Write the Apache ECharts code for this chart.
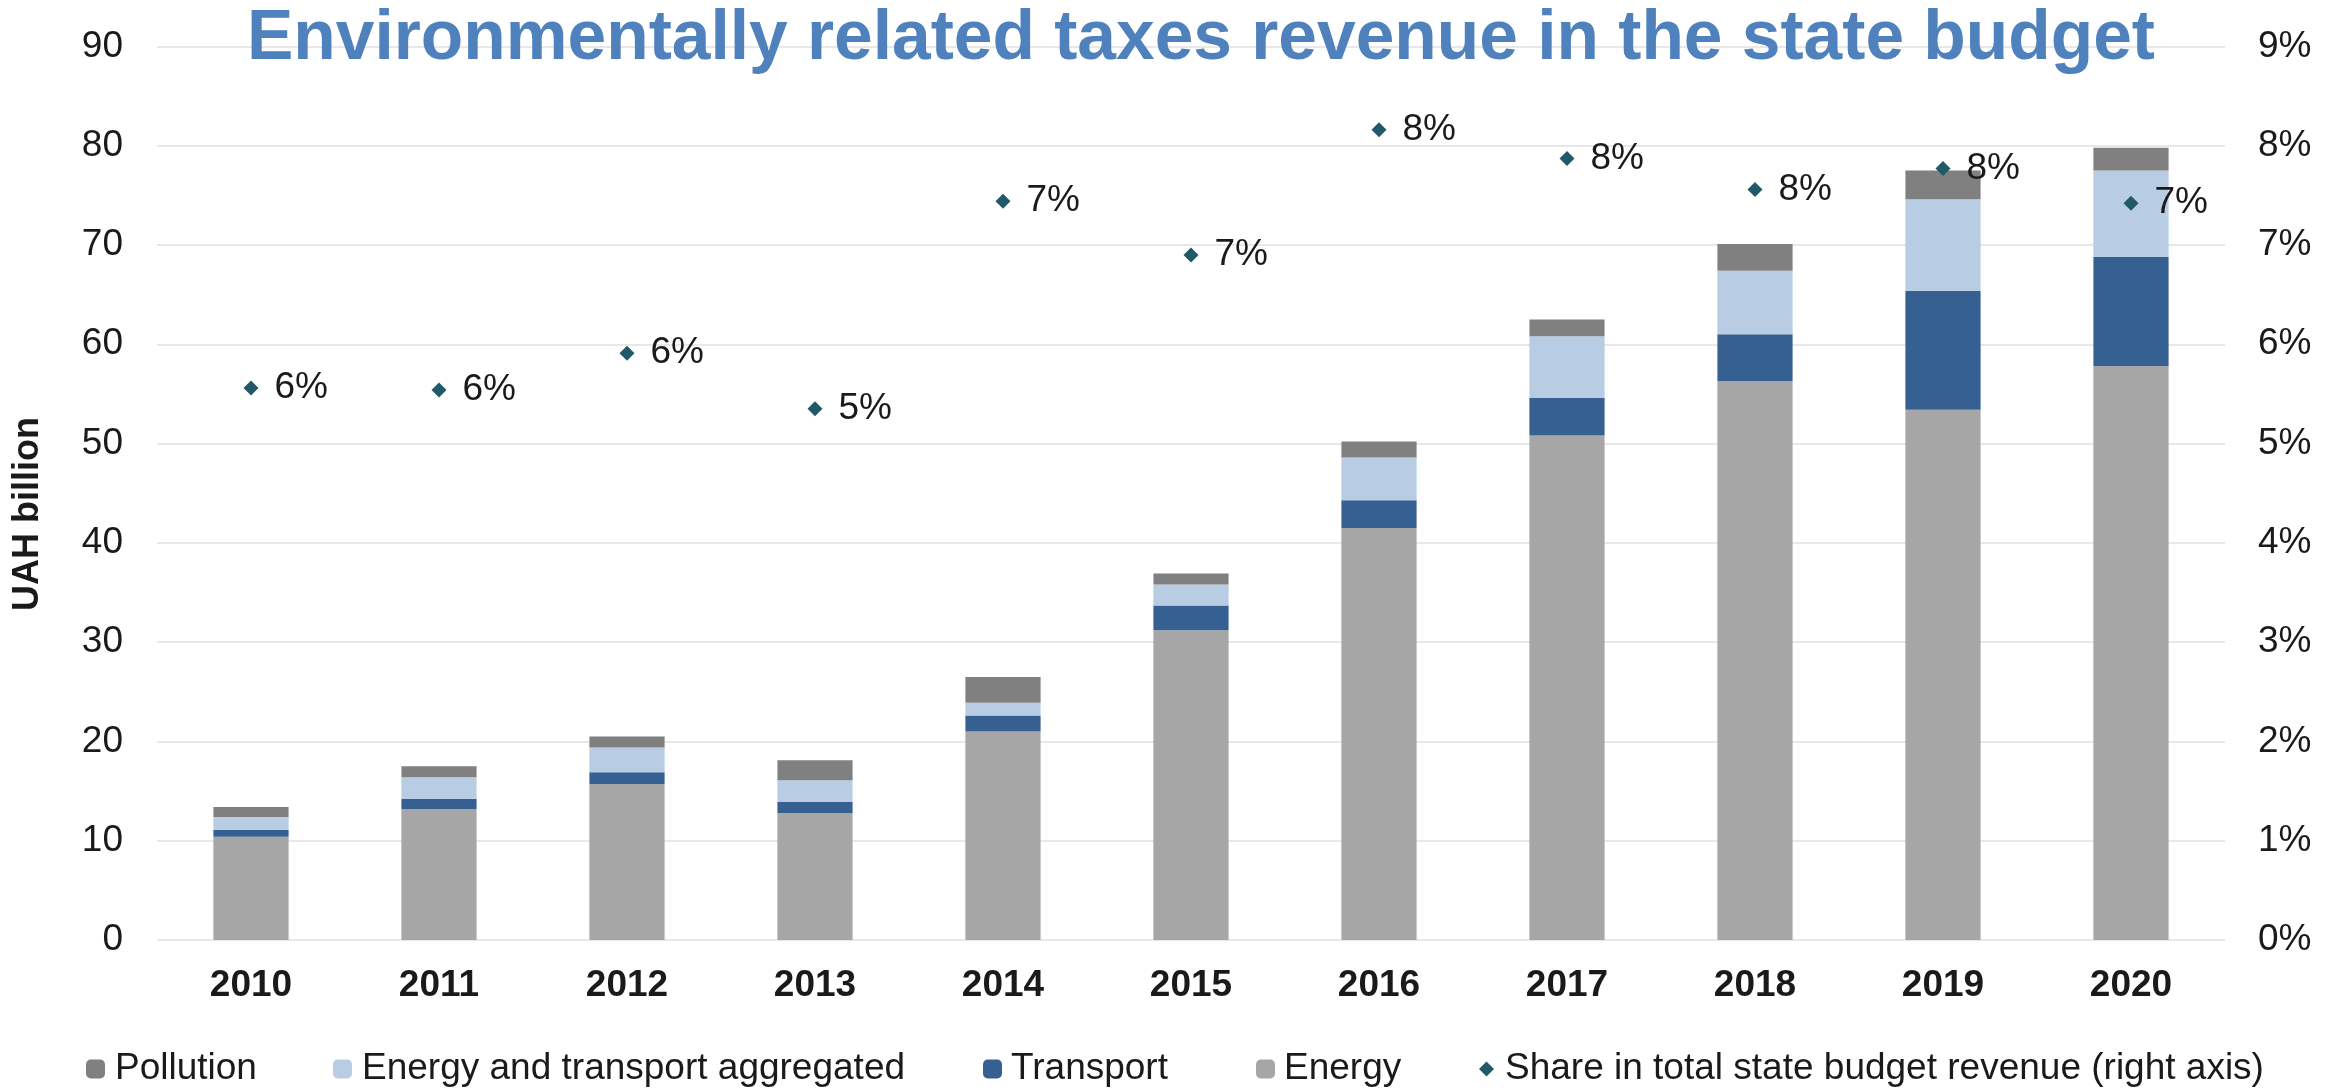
<!DOCTYPE html>
<html>
<head>
<meta charset="utf-8">
<title>Environmentally related taxes revenue in the state budget</title>
<script src="https://cdn.jsdelivr.net/npm/echarts@6/dist/echarts.min.js"></script>
<style>
  html, body { margin: 0; padding: 0; background: #ffffff; }
  #chart { width: 2344px; height: 1091px; }
</style>
</head>
<body>
<div id="chart"></div>
<script>
// Revenue by tax group, UAH billion
const years = ['2010', '2011', '2012', '2013', '2014', '2015', '2016', '2017', '2018', '2019', '2020'];
const energy = [10.4, 13.2, 15.7, 12.8, 21.0, 31.2, 41.5, 50.8, 56.3, 53.4, 57.8];
const transport = [0.7, 1.0, 1.2, 1.1, 1.6, 2.5, 2.8, 3.8, 4.7, 12.0, 11.0];
const aggregated = [1.3, 2.2, 2.5, 2.2, 1.3, 2.1, 4.3, 6.2, 6.4, 9.2, 8.7];
const pollution = [1.0, 1.1, 1.1, 2.0, 2.6, 1.1, 1.6, 1.7, 2.7, 2.9, 2.3];
// Share in total state budget revenue, %
const share = [5.56, 5.54, 5.91, 5.35, 7.44, 6.90, 8.16, 7.87, 7.56, 7.77, 7.42];
// Axis ticks
const leftTicks = { min: 0, max: 90, interval: 10 };
const rightTicks = { min: 0, max: 9, interval: 1 };

const FONT = '"Liberation Sans", Arial, sans-serif';
const TEXT = '#1a1a1a';

const names = {
  pollution: 'Pollution',
  aggregated: 'Energy and transport aggregated',
  transport: 'Transport',
  energy: 'Energy',
  share: 'Share in total state budget revenue (right axis)'
};

function legendAt(name, left, size, pad) {
  return {
    data: [name],
    left: left,
    top: 1049,
    orient: 'horizontal',
    padding: 0,
    itemWidth: size,
    itemHeight: size,
    selectedMode: false,
    textStyle: { fontFamily: FONT, fontSize: 37, color: TEXT, lineHeight: 40, padding: [0, 0, 0, pad] }
  };
}

const chart = echarts.init(document.getElementById('chart'), null, { renderer: 'canvas' });

chart.setOption({
  animation: false,
  backgroundColor: '#ffffff',
  title: {
    text: 'Environmentally related taxes revenue in the state budget',
    left: 247,
    top: 5,
    padding: 0,
    textStyle: { fontFamily: FONT, fontSize: 69.5, fontWeight: 'bold', color: '#4F81BD' }
  },
  grid: { left: 157, right: 119, top: 46.4, bottom: 151, containLabel: false },
  legend: [
    legendAt(names.pollution, 86, 19, 5),
    legendAt(names.aggregated, 333, 19, 5),
    legendAt(names.transport, 983, 19, 4),
    legendAt(names.energy, 1256, 19, 4),
    Object.assign(legendAt(names.share, 1479, 15, 6), { icon: 'diamond' })
  ],
  graphic: [{
    type: 'text',
    x: 28,
    y: 514,
    rotation: Math.PI / 2,
    style: {
      text: 'UAH billion',
      fontFamily: FONT,
      fontSize: 36,
      fontWeight: 'bold',
      fill: TEXT,
      align: 'center',
      verticalAlign: 'middle'
    }
  }],
  xAxis: {
    type: 'category',
    data: years,
    axisLine: { show: false },
    axisTick: { show: false },
    axisLabel: { margin: 27, fontFamily: FONT, fontSize: 37, fontWeight: 'bold', color: TEXT }
  },
  yAxis: [{
    type: 'value',
    min: leftTicks.min,
    max: leftTicks.max,
    interval: leftTicks.interval,
    axisLine: { show: false },
    axisTick: { show: false },
    splitLine: { lineStyle: { color: '#e8e8e8', width: 2 } },
    axisLabel: { margin: 34, fontFamily: FONT, fontSize: 37, color: TEXT }
  }, {
    type: 'value',
    position: 'right',
    min: rightTicks.min,
    max: rightTicks.max,
    interval: rightTicks.interval,
    axisLine: { show: false },
    axisTick: { show: false },
    splitLine: { show: false },
    axisLabel: { margin: 33, fontFamily: FONT, fontSize: 37, color: TEXT, formatter: '{value}%' }
  }],
  series: [
    { name: names.energy, type: 'bar', stack: 'total', barWidth: '40%', data: energy, itemStyle: { color: '#A6A6A6' } },
    { name: names.transport, type: 'bar', stack: 'total', data: transport, itemStyle: { color: '#366092' } },
    { name: names.aggregated, type: 'bar', stack: 'total', data: aggregated, itemStyle: { color: '#B8CCE4' } },
    { name: names.pollution, type: 'bar', stack: 'total', data: pollution, itemStyle: { color: '#808080' } },
    {
      name: names.share,
      type: 'scatter',
      yAxisIndex: 1,
      z: 5,
      symbol: 'diamond',
      symbolSize: 15,
      data: share,
      itemStyle: { color: '#215968', opacity: 1 },
      label: {
        show: true,
        position: 'right',
        distance: 16,
        fontFamily: FONT,
        fontSize: 37,
        color: TEXT,
        opacity: 1,
        formatter: function (p) { return Math.round(p.value) + '%'; }
      }
    }
  ]
});
</script>
</body>
</html>
